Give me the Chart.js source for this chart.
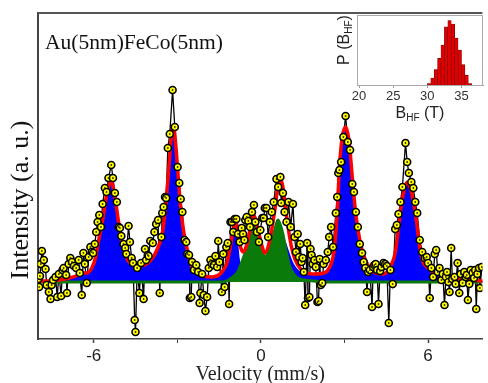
<!DOCTYPE html>
<html>
<head>
<meta charset="utf-8">
<script src="https://cdn.jsdelivr.net/npm/chart.js@4/dist/chart.umd.min.js"></script>
<style>
  body { margin: 0; background: #fff; }
  #wrap { position: relative; width: 488px; height: 383px; }
  #spectrum { position: absolute; left: 0; top: 0; }
  #inset { position: absolute; left: 330px; top: 0; }
</style>
</head>
<body>
<div id="wrap">
  <canvas id="spectrum" width="488" height="383"></canvas>
  <canvas id="inset" width="158" height="130"></canvas>
</div>
<script>
const sampleName = "Au(5nm)FeCo(5nm)";
const yTitle = "Intensity (a. u.)";
const xTitle = "Velocity (mm/s)";
const xTicks = [-6, -3, 0, 3, 6];

// measured spectrum (mm/s, a.u.)
const velocity = [
  -7.99,-7.96,-7.93,-7.90,-7.86,-7.79,-7.73,-7.69,-7.61,-7.55,-7.51,-7.46,-7.37,-7.31,-7.25,-7.17,-7.12,-7.08,-6.99,-6.96,
  -6.90,-6.84,-6.78,-6.71,-6.63,-6.54,-6.50,-6.43,-6.37,-6.32,-6.25,-6.18,-6.12,-6.07,-6.02,-5.96,-5.91,-5.86,-5.80,-5.74,
  -5.68,-5.60,-5.54,-5.47,-5.37,-5.31,-5.24,-5.17,-5.10,-5.06,-5.01,-4.93,-4.87,-4.83,-4.75,-4.70,-4.64,-4.59,-4.53,-4.50,
  -4.44,-4.36,-4.30,-4.21,-4.16,-4.12,-4.06,-4.03,-3.97,-3.88,-3.82,-3.76,-3.69,-3.63,-3.57,-3.54,-3.49,-3.44,-3.40,-3.34,
  -3.27,-3.17,-3.09,-2.99,-2.93,-2.88,-2.82,-2.74,-2.68,-2.64,-2.58,-2.55,-2.50,-2.47,-2.40,-2.32,-2.25,-2.20,-2.17,-2.11,
  -2.05,-1.99,-1.93,-1.87,-1.81,-1.76,-1.69,-1.63,-1.57,-1.53,-1.49,-1.40,-1.35,-1.30,-1.24,-1.19,-1.14,-1.09,-1.04,-0.99,
  -0.94,-0.88,-0.82,-0.76,-0.69,-0.64,-0.59,-0.56,-0.51,-0.45,-0.39,-0.32,-0.25,-0.20,-0.14,-0.07,-0.02,0.05,0.10,0.14,
  0.20,0.26,0.32,0.39,0.46,0.56,0.62,0.70,0.73,0.79,0.85,0.92,0.99,1.07,1.15,1.21,1.26,1.32,1.37,1.41,
  1.46,1.50,1.54,1.59,1.66,1.69,1.74,1.78,1.82,1.86,1.92,1.97,2.03,2.07,2.11,2.15,2.20,2.25,2.33,2.40,
  2.45,2.52,2.59,2.69,2.74,2.78,2.82,2.88,2.96,3.04,3.12,3.20,3.28,3.34,3.41,3.48,3.55,3.63,3.69,3.75,
  3.81,3.85,3.91,3.99,4.03,4.07,4.12,4.17,4.22,4.28,4.33,4.40,4.46,4.52,4.59,4.65,4.73,4.82,4.88,4.94,
  5.01,5.08,5.19,5.25,5.31,5.40,5.47,5.54,5.61,5.70,5.79,5.88,5.95,6.00,6.06,6.12,6.18,6.24,6.29,6.35,
  6.41,6.48,6.53,6.59,6.64,6.68,6.73,6.77,6.83,6.87,6.95,6.99,7.06,7.12,7.17,7.24,7.30,7.35,7.39,7.43,
  7.48,7.53,7.60,7.65,7.69,7.73,7.77,7.83,7.86,7.93
];
const counts = [
  3,-5,6,18,31,22,13,-3,-10,-17,-3,2,5,-15,8,-14,12,14,7,-11,
  18,24,20,16,14,22,9,-13,29,18,-1,25,35,30,29,38,50,60,67,55,
  78,94,90,104,117,104,89,80,55,54,46,38,34,28,56,40,24,19,-38,-50,
  14,-11,19,-17,33,22,27,26,41,39,50,58,62,-11,45,69,75,85,84,134,
  148,192,155,115,99,83,70,42,40,28,27,-16,-15,20,12,17,10,-21,-11,8,
  -13,-29,-15,14,22,18,17,26,15,41,20,-10,28,-5,35,39,-22,60,60,50,
  63,63,48,40,54,48,42,62,65,61,55,70,77,60,50,40,52,64,64,74,
  74,45,60,70,80,103,95,105,79,89,70,60,80,55,78,45,30,48,25,38,
  20,24,10,-23,39,-16,-15,33,27,18,22,15,-20,-19,23,-3,-1,18,22,30,
  45,55,35,69,85,109,112,120,145,166,140,132,98,90,70,55,38,29,20,14,
  -10,10,12,-25,15,17,18,12,-22,11,15,19,18,16,-41,12,-2,53,57,68,
  80,95,139,120,109,100,94,80,69,42,30,24,25,19,-16,14,5,28,32,10,
  14,2,8,-23,5,10,0,-10,34,3,5,-2,19,-11,8,-1,10,5,7,-18,
  -2,12,9,4,12,-27,8,14,-6,15
];

// fit components sampled along the velocity axis
const fitVelocity = [
  -8.00,-7.60,-7.24,-6.89,-6.64,-6.43,-6.25,-6.07,-5.93,-5.82,
  -5.68,-5.54,-5.43,-5.38,-5.24,-5.12,-5.01,-4.89,-4.71,-4.47,
  -4.18,-3.94,-3.70,-3.53,-3.41,-3.29,-3.20,-3.13,-3.05,-2.96,
  -2.88,-2.78,-2.64,-2.52,-2.23,-1.75,-1.40,-1.22,-1.10,-1.00,
  -0.92,-0.83,-0.75,-0.63,-0.51,-0.39,-0.25,-0.10,0.05,0.14,
  0.32,0.50,0.61,0.70,0.79,0.91,1.03,1.15,1.32,1.56,
  1.92,2.27,2.45,2.63,2.74,2.82,2.92,3.04,3.16,3.28,
  3.40,3.55,3.75,4.05,4.40,4.64,4.82,4.93,5.05,5.17,
  5.27,5.41,5.53,5.61,5.70,5.82,6.00,6.18,6.29,6.47,
  6.77,7.14,7.49,8.00
];
const fitTotal = [
  1,1,2,4,6,9,9,14,25,42,
  62,87,99,101,85,62,42,29,19,16,
  17,22,34,50,79,119,150,154,135,102,
  75,52,32,18,8,5,10,19,35,52,
  62,52,37,30,37,52,66,52,35,29,
  42,72,95,103,95,69,45,29,17,10,
  8,9,14,32,70,115,145,155,142,105,
  69,42,22,10,8,15,29,52,79,95,
  100,89,72,55,34,20,14,10,10,5,
  4,3,2,1
];
const fitSextet = [
  1,1,2,4,6,9,9,14,25,42,
  62,87,99,101,85,62,42,29,19,16,
  17,22,34,50,79,119,150,154,135,102,
  75,52,32,18,8,5,10,18,32,47,
  55,42,22,6,2,2,4,4,5,4,
  8,20,33,46,47,39,29,20,13,8,
  7,9,14,32,70,115,145,155,142,105,
  69,42,22,10,8,15,29,52,79,95,
  100,89,72,55,34,20,14,10,10,5,
  4,3,2,1
];
const fitDoublet = [
  0,0,0,0,0,0,0,0,0,0,
  0,0,0,0,0,0,0,0,0,0,
  0,0,0,0,0,0,0,0,0,0,
  0,0,0,0,0,0,0,1,3,5,
  7,10,15,24,35,50,62,48,30,25,
  34,52,62,57,48,30,16,9,4,2,
  1,0,0,0,0,0,0,0,0,0,
  0,0,0,0,0,0,0,0,0,0,
  0,0,0,0,0,0,0,0,0,0,
  0,0,0,0
];

// inset: hyperfine field distribution
const fieldBins = [30.25,30.75,31.25,31.75,32.25,32.75,33.25,33.75,34.25,34.75,35.25,35.75,36.25];
const probability = [0.02,0.10,0.22,0.38,0.57,0.83,0.92,0.87,0.67,0.50,0.29,0.14,0.02];
const insetTicks = [20, 25, 30, 35];

const pts = (xs, ys) => xs.map((x, i) => ({ x: x, y: ys[i] }));

const spectrumText = {
  id: "spectrumText",
  afterDraw(chart) {
    const { ctx, chartArea: a } = chart;
    ctx.save();
    ctx.strokeStyle = "#555";
    ctx.lineWidth = 2;
    ctx.beginPath();
    ctx.moveTo(a.left, a.top);
    ctx.lineTo(a.right, a.top);
    ctx.stroke();

    ctx.fillStyle = "#111";
    ctx.textBaseline = "middle";
    ctx.font = '21.5px "Liberation Serif"';
    ctx.fillText(sampleName, 45, 43);

    ctx.translate(21, 200);
    ctx.rotate(-Math.PI / 2);
    ctx.textAlign = "center";
    ctx.font = '26px "Liberation Serif"';
    ctx.fillText(yTitle, 0, 0);
    ctx.restore();
  }
};

new Chart(document.getElementById("spectrum"), {
  type: "line",
  data: {
    datasets: [
      {
        label: "data line",
        data: pts(velocity, counts),
        borderColor: "#000",
        borderWidth: 1.3,
        pointRadius: 0,
        fill: false,
        order: 5
      },
      {
        label: "data",
        data: pts(velocity, counts),
        showLine: false,
        pointRadius: 3.5,
        pointBorderWidth: 1.6,
        pointBackgroundColor: "#ffff00",
        pointBorderColor: "#000",
        order: 0
      },
      {
        label: "data centre",
        data: pts(velocity, counts),
        showLine: false,
        pointRadius: 0.9,
        pointBorderWidth: 0,
        pointBackgroundColor: "#3a2a00",
        order: -1
      },
      {
        label: "fit",
        data: pts(fitVelocity, fitTotal),
        borderColor: "#ff0000",
        borderWidth: 3.5,
        pointRadius: 0,
        cubicInterpolationMode: "monotone",
        fill: false,
        order: 1
      },
      {
        label: "doublet",
        data: pts(fitVelocity, fitDoublet),
        borderColor: "#0a7a0a",
        backgroundColor: "#0a7a0a",
        borderWidth: 3,
        pointRadius: 0,
        cubicInterpolationMode: "monotone",
        fill: "origin",
        order: 2
      },
      {
        label: "sextet",
        data: pts(fitVelocity, fitSextet),
        borderColor: "#0000ff",
        backgroundColor: "#0000ff",
        borderWidth: 0,
        pointRadius: 0,
        cubicInterpolationMode: "monotone",
        fill: "origin",
        order: 3
      }
    ]
  },
  options: {
    responsive: false,
    animation: false,
    layout: { padding: { top: 13, right: 0, left: 0, bottom: 0 } },
    plugins: { legend: { display: false }, tooltip: { enabled: false } },
    scales: {
      x: {
        type: "linear",
        min: -8,
        max: 7.95,
        afterFit: s => { s.height = 44; },
        afterBuildTicks: s => { s.ticks = xTicks.map(v => ({ value: v })); },
        grid: {
          drawOnChartArea: false,
          drawTicks: true,
          tickLength: 4,
          color: "#444",
          tickWidth: c => (c.tick && c.tick.value % 6 === 0 ? 1.5 : 1)
        },
        border: { color: "#444", width: 1.5 },
        ticks: {
          color: "#222",
          padding: 3,
          maxRotation: 0,
          font: { family: "Liberation Sans", size: 17 },
          callback: v => (v % 6 === 0 ? String(v) : "")
        },
        title: {
          display: true,
          text: xTitle,
          color: "#222",
          padding: 0,
          font: { family: "Liberation Serif", size: 20, lineHeight: 0.8 }
        }
      },
      y: {
        min: -57,
        max: 269,
        afterFit: s => { s.width = 38; },
        grid: { display: false },
        border: { color: "#444", width: 2 },
        ticks: { display: false }
      }
    }
  },
  plugins: [spectrumText]
});

const insetText = {
  id: "insetText",
  afterDraw(chart) {
    const { ctx, chartArea: a } = chart;
    ctx.save();
    ctx.strokeStyle = "#aaa";
    ctx.lineWidth = 1;
    ctx.strokeRect(a.left + 0.5, a.top + 0.5, a.right - a.left - 1, a.bottom - a.top);

    ctx.fillStyle = "#222";
    ctx.textBaseline = "alphabetic";
    // x title: B_HF (T)
    const big = '16px "Liberation Sans"', small = '10px "Liberation Sans"';
    ctx.font = big; const wB = ctx.measureText("B").width;
    ctx.font = small; const wS = ctx.measureText("HF").width;
    ctx.font = big; const wT = ctx.measureText(" (T)").width;
    let x = 90 - (wB + wS + wT) / 2, y = 118;
    ctx.font = big; ctx.fillText("B", x, y); x += wB;
    ctx.font = small; ctx.fillText("HF", x, y + 3); x += wS;
    ctx.font = big; ctx.fillText(" (T)", x, y);

    // y title: P (B_HF)
    ctx.translate(19, 40);
    ctx.rotate(-Math.PI / 2);
    ctx.font = big; const w1 = ctx.measureText("P (B").width;
    ctx.font = small; const w2 = ctx.measureText("HF").width;
    ctx.font = big; const w3 = ctx.measureText(")").width;
    x = -(w1 + w2 + w3) / 2; y = 0;
    ctx.font = big; ctx.fillText("P (B", x, y); x += w1;
    ctx.font = small; ctx.fillText("HF", x, y + 3); x += w2;
    ctx.font = big; ctx.fillText(")", x, y);
    ctx.restore();
  }
};

new Chart(document.getElementById("inset"), {
  type: "bar",
  data: {
    datasets: [{
      data: pts(fieldBins, probability),
      backgroundColor: "#e00000",
      borderColor: "#700000",
      borderWidth: 0.6,
      barPercentage: 1,
      categoryPercentage: 1
    }]
  },
  options: {
    responsive: false,
    animation: false,
    layout: { padding: { top: 15, right: 5, left: 0, bottom: 0 } },
    plugins: { legend: { display: false }, tooltip: { enabled: false } },
    scales: {
      x: {
        type: "linear",
        offset: false,
        min: 19.7,
        max: 38.15,
        afterFit: s => { s.height = 45; },
        afterBuildTicks: s => { s.ticks = insetTicks.map(v => ({ value: v })); },
        grid: { drawOnChartArea: false, offset: false, tickLength: 3, color: "#999" },
        border: { color: "#aaa" },
        ticks: { color: "#333", padding: 1, maxRotation: 0, font: { family: "Liberation Sans", size: 13 } }
      },
      y: {
        min: 0,
        max: 1,
        afterFit: s => { s.width = 27; },
        grid: { display: false },
        border: { color: "#aaa" },
        ticks: { display: false }
      }
    }
  },
  plugins: [insetText]
});
</script>
</body>
</html>
